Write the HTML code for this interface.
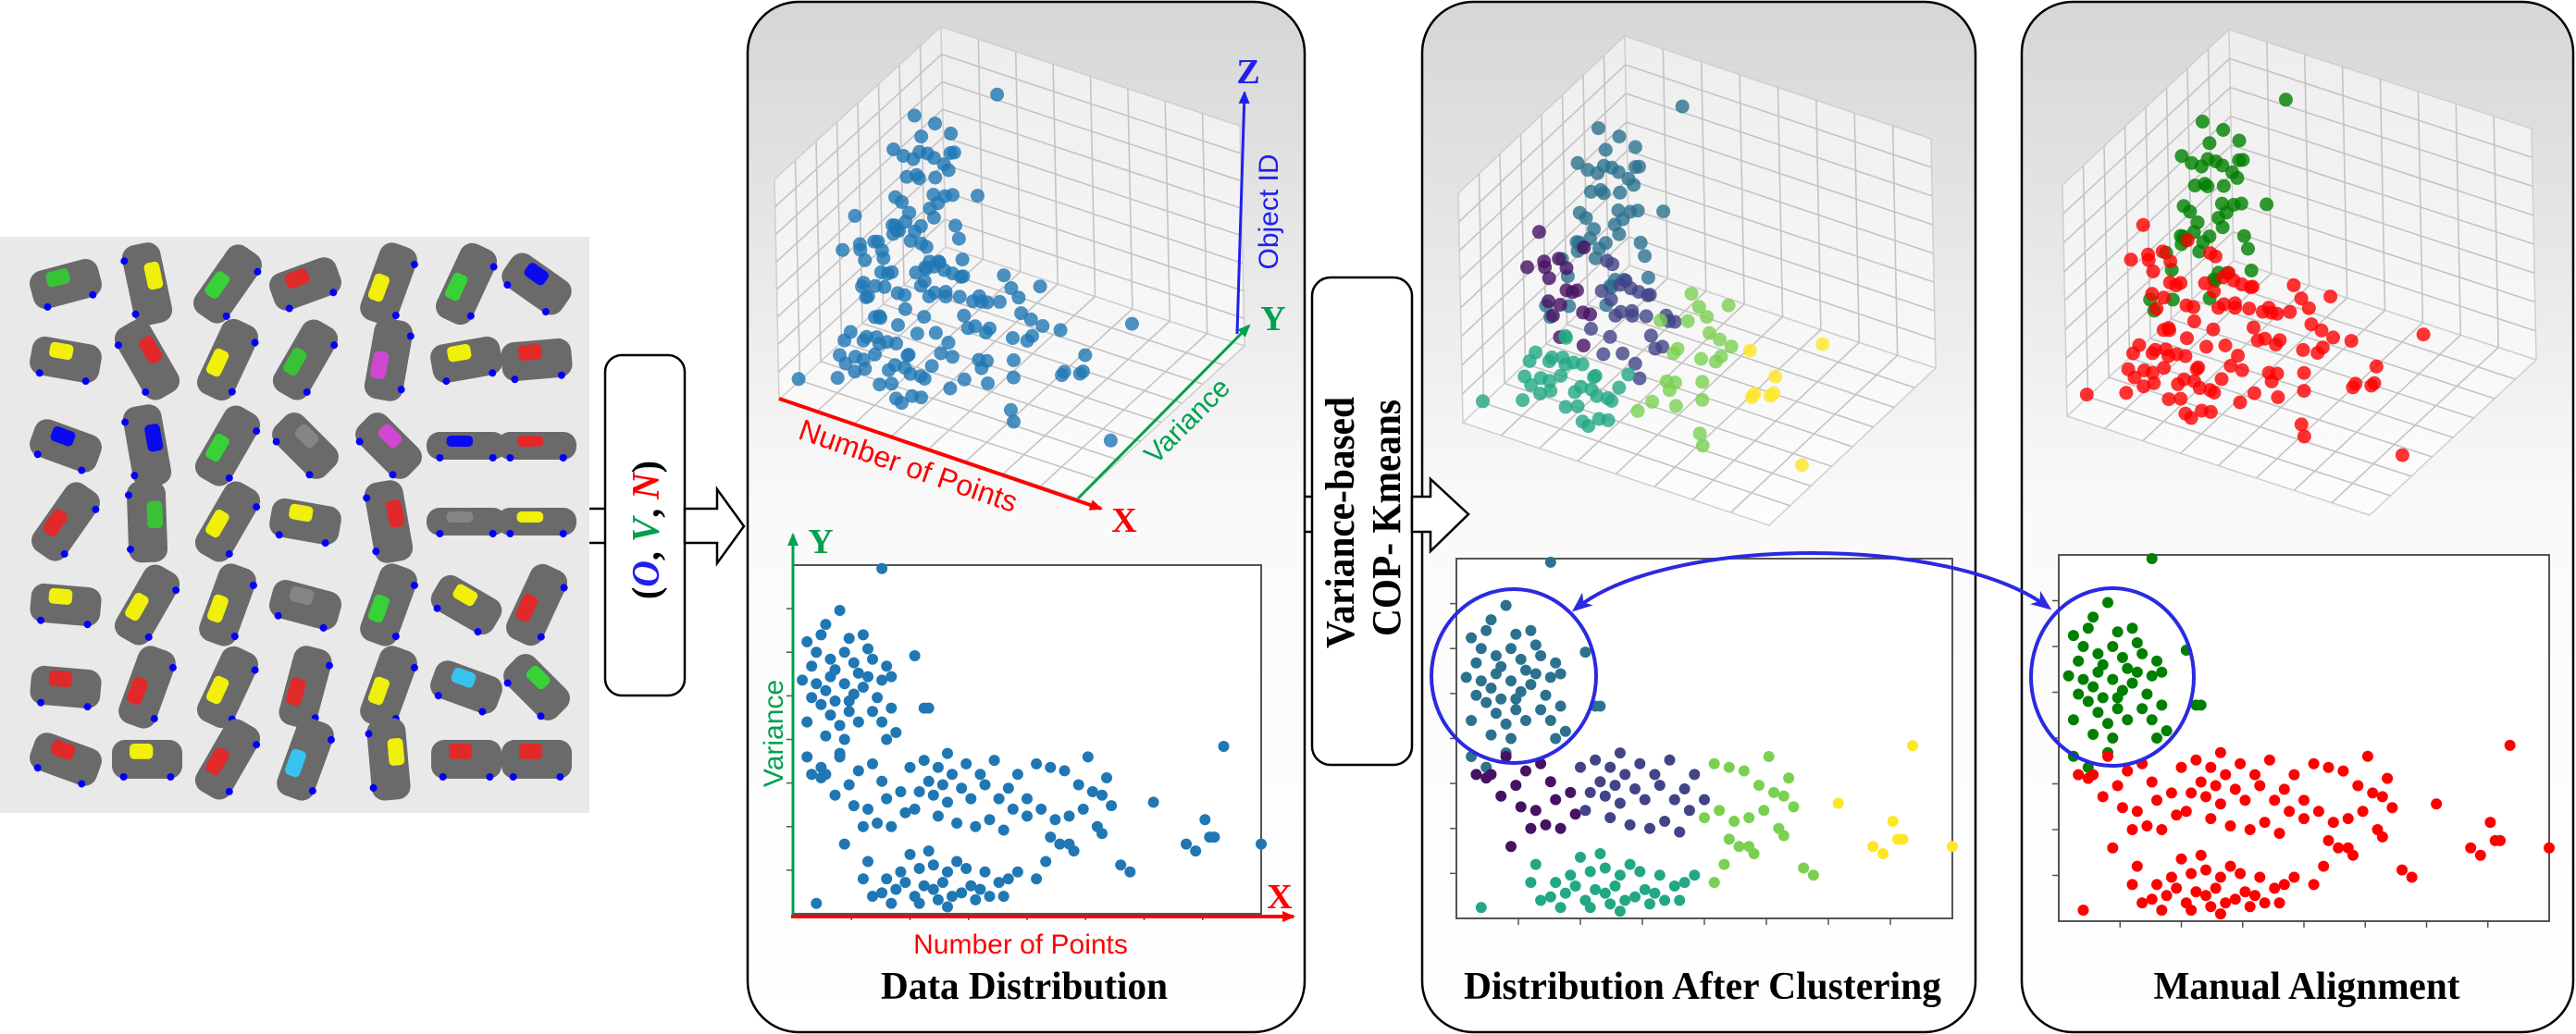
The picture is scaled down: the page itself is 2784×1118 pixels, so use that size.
<!DOCTYPE html>
<html><head><meta charset="utf-8"><style>
html,body{margin:0;padding:0;background:#fff;}
svg{display:block;}
text{font-family:"Liberation Serif",serif;}
.sans{font-family:"Liberation Sans",sans-serif;}
</style></head><body>
<svg id="fig" xmlns="http://www.w3.org/2000/svg" width="2784" height="1118" viewBox="0 0 2784 1118">
<defs>
<linearGradient id="pg" x1="0" y1="0" x2="0" y2="1">
<stop offset="0" stop-color="#d6d6d6"/><stop offset="0.5" stop-color="#fafafa"/><stop offset="1" stop-color="#ffffff"/>
</linearGradient>
<marker id="arR" markerWidth="14" markerHeight="12" refX="12" refY="6" orient="auto" markerUnits="userSpaceOnUse"><path d="M0,0 L14,6 L0,12 z" fill="#f00"/></marker>
<marker id="arG" markerWidth="14" markerHeight="12" refX="12" refY="6" orient="auto" markerUnits="userSpaceOnUse"><path d="M0,0 L14,6 L0,12 z" fill="#00a050"/></marker>
<marker id="arB" markerWidth="14" markerHeight="12" refX="12" refY="6" orient="auto" markerUnits="userSpaceOnUse"><path d="M0,0 L14,6 L0,12 z" fill="#2020ee"/></marker>
<marker id="arBl" markerWidth="22" markerHeight="18" refX="18" refY="9" orient="auto-start-reverse" markerUnits="userSpaceOnUse"><path d="M0,0 L22,9 L0,18 L6,9 z" fill="#2a2ae0"/></marker>
</defs>

<rect x="0" y="256" width="637" height="623" fill="#e9e9e9"/>
<g id="cars"></g>

<line x1="637" y1="550" x2="654" y2="550" stroke="#000" stroke-width="2.5"/>
<line x1="637" y1="587" x2="654" y2="587" stroke="#000" stroke-width="2.5"/>
<rect x="654" y="384" width="86" height="368" rx="18" fill="#fff" stroke="#000" stroke-width="2.5"/>
<text transform="translate(712,573) rotate(-90)" text-anchor="middle" font-size="42" font-weight="bold" textLength="150" lengthAdjust="spacingAndGlyphs">(<tspan fill="#2020ee" font-style="italic">O</tspan>, <tspan fill="#00a050" font-style="italic">V</tspan>, <tspan fill="#f00" font-style="italic">N</tspan>)</text>
<polygon points="740,550 775,550 775,529 804,569 775,609 775,587 740,587" fill="#fff" stroke="#000" stroke-width="2.5"/>

<rect x="808" y="2" width="602" height="1114" rx="55" fill="url(#pg)" stroke="#000" stroke-width="2.5"/>
<rect x="1537" y="2" width="598" height="1114" rx="55" fill="url(#pg)" stroke="#000" stroke-width="2.5"/>
<rect x="2185" y="2" width="596" height="1114" rx="55" fill="url(#pg)" stroke="#000" stroke-width="2.5"/>

<line x1="1410" y1="537" x2="1420" y2="537" stroke="#000" stroke-width="2.5"/>
<line x1="1410" y1="575" x2="1420" y2="575" stroke="#000" stroke-width="2.5"/>
<rect x="1418" y="300" width="108" height="527" rx="20" fill="#fff" stroke="#000" stroke-width="2.5"/>
<text transform="translate(1463,565) rotate(-90)" text-anchor="middle" font-size="44" font-weight="bold" textLength="272" lengthAdjust="spacingAndGlyphs">Variance-based</text>
<text transform="translate(1513,560) rotate(-90)" text-anchor="middle" font-size="44" font-weight="bold" textLength="256" lengthAdjust="spacingAndGlyphs">COP- Kmeans</text>
<polygon points="1526,537 1546,537 1546,518 1587,556 1546,596 1546,575 1526,575" fill="#fff" stroke="#000" stroke-width="2.5"/>

<g id="p2"></g>
<g id="p3"></g>
<g id="p4"></g>

<text x="1107" y="1080" text-anchor="middle" font-size="42" font-weight="bold" textLength="310" lengthAdjust="spacingAndGlyphs">Data Distribution</text>
<text x="1840" y="1080" text-anchor="middle" font-size="42" font-weight="bold" textLength="516" lengthAdjust="spacingAndGlyphs">Distribution After Clustering</text>
<text x="2493" y="1080" text-anchor="middle" font-size="42" font-weight="bold" textLength="331" lengthAdjust="spacingAndGlyphs">Manual Alignment</text>
</svg>
<script>
// ---- data: number of points (x), variance (v), object id (z), cluster labels ----
const xs = [3,7,10,6,8,4,5,9,11,12,14,15,13,6,8,3,10,12,16,17,19,20,18,21,7,9,11,5,15,4,2,13,17,20,22,11,7,14,19,10,3,6,16,8,12,26,28,29,21,19,
 4,6,12,10,14,17,9,13,16,20,18,21,23,24,15,11,7,19,
 25,28,31,34,37,36,33,30,27,26,38,41,44,46,48,50,42,39,35,31,29,43,47,40,33,45,32,
 15,17,19,22,24,26,28,30,32,34,36,38,40,42,44,46,27,30,33,25,29,35,37,23,31,39,21,5,16,41,48,45,27,33,20,
 52,55,58,61,62,59,56,53,50,64,66,67,68,55,57,59,60,66,65,70,72,54,52,63,
 77,84,86,89,90,92,100,88];
const vs = [78,83,87,80,73,71,66,70,75,79,69,65,63,60,57,55,54,58,76,73,67,71,62,59,64,61,66,75,80,62,67,72,58,50,52,50,51,55,55,46,45,42,68,68,61,74,59,59,68,99,
 40,39,37,45,41,43,34,31,30,33,26,25,35,29,25,20,40,38,
 42,44,42,40,43,36,32,34,35,30,33,37,33,36,40,33,27,25,26,28,38,44,30,40,46,24,37,
 10,5,6,7,9,5,8,7,9,5,6,8,7,5,9,10,13,14,12,17,18,15,13,12,4,4,3,3,15,12,12,5,3,2,10,
 43,42,41,37,30,28,27,30,28,35,34,39,31,22,20,20,18,23,25,14,12,15,10,45,
 32,20,18,22,22,48,20,27];
const zs = [95,88,80,72,90,65,55,84,77,70,62,58,48,93,68,40,52,60,82,75,66,45,57,35,86,50,73,63,78,44,38,69,30,28,42,54,36,47,33,25,22,20,59,81,46,64,53,41,67,98,
 70,55,62,48,40,66,58,35,44,52,30,60,38,26,50,72,45,34,
 64,50,56,42,38,60,46,30,54,36,48,58,40,32,44,52,28,34,62,26,68,41,37,55,47,24,43,
 20,12,35,26,18,40,30,14,22,44,10,28,38,16,24,32,48,8,36,42,15,27,19,34,46,11,25,6,30,21,39,17,31,45,13,
 60,55,52,48,40,62,45,38,57,35,50,42,44,30,28,20,36,25,33,16,12,24,22,58,
 52,40,45,42,44,50,10,48];
const labels = [0,0,0,0,0,0,0,0,0,0,0,0,0,0,0,0,0,0,0,0,0,0,0,0,0,0,0,0,0,0,0,0,0,0,0,0,0,0,0,0,0,0,0,0,0,0,0,0,0,0,
 1,1,1,1,1,1,1,1,1,1,1,1,1,1,1,1,1,1,
 2,2,2,2,2,2,2,2,2,2,2,2,2,2,2,2,2,2,2,2,2,2,2,2,2,2,2,
 3,3,3,3,3,3,3,3,3,3,3,3,3,3,3,3,3,3,3,3,3,3,3,3,3,3,3,3,3,3,3,3,3,3,3,
 4,4,4,4,4,4,4,4,4,4,4,4,4,4,4,4,4,4,4,4,4,4,4,4,
 5,5,5,5,5,5,5,5];
const clusterColors = ['#2c728e','#471164','#414487','#22a884','#7ad151','#fde725'];
const alignColors = ['#008000','#ff0000','#ff0000','#ff0000','#ff0000','#ff0000'];

const NS='http://www.w3.org/2000/svg';
function mk(tag, attrs, parent){const e=document.createElementNS(NS,tag);for(const k in attrs)e.setAttribute(k,attrs[k]);parent.appendChild(e);return e;}

// ---- 3D scatter ----
function draw3D(g, A, X, Y, Z, colorFn, prefix){
  const P=(a,b,c)=>[A[0]+a*X[0]+b*Y[0]+c*Z[0], A[1]+a*X[1]+b*Y[1]+c*Z[1]];
  const pane=(pts,name)=>{const p=mk('polygon',{points:pts.map(q=>q.join(',')).join(' '),fill:'rgba(255,255,255,0.55)',stroke:'#cfcfcf','stroke-width':1.5},g);
    
    };
  pane([P(0,0,0),P(1,0,0),P(1,1,0),P(0,1,0)], prefix+'-floor-pane');
  pane([P(0,0,0),P(0,1,0),P(0,1,1),P(0,0,1)], prefix+'-left-pane');
  pane([P(0,1,0),P(1,1,0),P(1,1,1),P(0,1,1)], prefix+'-back-pane');
  const ln=(a,b)=>{const l=mk('line',{x1:a[0],y1:a[1],x2:b[0],y2:b[1],stroke:'#c4c4c4','stroke-width':1.6},g);
    
    };
  for(let i=1;i<8;i++){const t=i/8;
    ln(P(t,0,0),P(t,1,0)); ln(P(0,t,0),P(1,t,0));
    ln(P(0,t,0),P(0,t,1)); ln(P(0,0,t),P(0,1,t));
    ln(P(t,1,0),P(t,1,1)); ln(P(0,1,t),P(1,1,t));}
  const idx=xs.map((_,i)=>i).sort((a,b)=>(vs[b]-xs[b])-(vs[a]-xs[a]));
  for(const i of idx){const q=P(xs[i]/100, vs[i]/100, 0.05+zs[i]/100*0.75);
    const c=mk('circle',{cx:q[0].toFixed(1),cy:q[1].toFixed(1),r:7.5,fill:colorFn(i),'fill-opacity':0.8},g);
    
    }
}
// ---- 2D scatter ----
function draw2D(g, box, colorFn, prefix){
  const [x0,y0,x1,y1]=box;
  const sx=v=>x0+v/100*(x1-x0), sy=v=>y1-v/100*(y1-y0);
  const r=mk('rect',{x:x0,y:y0,width:x1-x0,height:y1-y0,fill:'#fff',stroke:'#555','stroke-width':2},g);
  
  
  for(let i=1;i<8;i++){
    const t1=mk('line',{x1:x0-7,x2:x0,y1:y0+i*(y1-y0)/8,y2:y0+i*(y1-y0)/8,stroke:'#555','stroke-width':1.5},g);
    
    
    const t2=mk('line',{y1:y1,y2:y1+7,x1:x0+i*(x1-x0)/8,x2:x0+i*(x1-x0)/8,stroke:'#555','stroke-width':1.5},g);
    
    }
  for(let i=0;i<xs.length;i++){
    const c=mk('circle',{cx:sx(xs[i]).toFixed(1),cy:sy(vs[i]).toFixed(1),r:6,fill:colorFn(i)},g);
    
    }
}
const g2=document.getElementById('p2'), g3=document.getElementById('p3'), g4=document.getElementById('p4');
draw3D(g2,[842,432],[323,107],[180,-165],[-5,-238],()=> '#1f77b4','dist-3d');
draw3D(g3,[1581,457],[331,111],[180,-170],[-5,-248],i=>clusterColors[labels[i]],'cluster-3d');
draw3D(g4,[2234,450],[327,107],[180,-168],[-5,-250],i=>alignColors[labels[i]],'align-3d');
draw2D(g2,[857,611,1363,988],()=> '#1f77b4','dist-2d');
draw2D(g3,[1574,604,2110,993],i=>clusterColors[labels[i]],'cluster-2d');
draw2D(g4,[2225,600,2755,996],i=>alignColors[labels[i]],'align-2d');

// ---- axis annotations for data distribution panel ----
function line(g,a,name,attrs){const l=mk('line',Object.assign({x1:a[0],y1:a[1],x2:a[2],y2:a[3]},attrs),g);return l;}
let e;
e=line(g2,[842,431,1190,550],'',{stroke:'#f00','stroke-width':4,'marker-end':'url(#arR)'});


e=line(g2,[1165,539,1350,352],'',{stroke:'#00a050','stroke-width':3,'marker-end':'url(#arG)'});


e=line(g2,[1337,361,1345,100],'',{stroke:'#2020ee','stroke-width':3,'marker-end':'url(#arB)'});


e=line(g2,[857,990,857,578],'',{stroke:'#00a050','stroke-width':3,'marker-end':'url(#arG)'});


e=line(g2,[855,991,1398,991],'',{stroke:'#f00','stroke-width':4,'marker-end':'url(#arR)'});


function txt(g,s,x,y,attrs){const t=mk('text',Object.assign({x:x,y:y},attrs),g);t.textContent=s;return t;}
e=txt(g2,'Number of Points',0,0,{transform:'translate(978,514) rotate(19)','text-anchor':'middle','font-size':32,fill:'#f00',class:'sans'});


e=txt(g2,'Variance',0,0,{transform:'translate(1290,462) rotate(-45)','text-anchor':'middle','font-size':30,fill:'#00a050',class:'sans'});


e=txt(g2,'Object ID',0,0,{transform:'translate(1381,229) rotate(-90)','text-anchor':'middle','font-size':30,fill:'#2020ee',class:'sans'});


e=txt(g2,'X',1215,575,{'text-anchor':'middle','font-size':38,'font-weight':'bold',fill:'#f00'});


e=txt(g2,'Y',1376,357,{'text-anchor':'middle','font-size':38,'font-weight':'bold',fill:'#00a050'});


e=txt(g2,'Z',1349,90,{'text-anchor':'middle','font-size':38,'font-weight':'bold',fill:'#2020ee'});


e=txt(g2,'Y',887,598,{'text-anchor':'middle','font-size':38,'font-weight':'bold',fill:'#00a050'});


e=txt(g2,'X',1383,982,{'text-anchor':'middle','font-size':38,'font-weight':'bold',fill:'#f00'});


e=txt(g2,'Variance',0,0,{transform:'translate(846,793) rotate(-90)','text-anchor':'middle','font-size':30,fill:'#00a050',class:'sans'});


e=txt(g2,'Number of Points',1103,1031,{'text-anchor':'middle','font-size':30,fill:'#f00',class:'sans'});



// ---- cluster highlight ellipses and link ----
const svg=document.getElementById('fig');
e=mk('ellipse',{cx:1636,cy:731,rx:89,ry:94,fill:'none',stroke:'#2a2ae0','stroke-width':4},svg);


e=mk('ellipse',{cx:2283,cy:732,rx:88,ry:96,fill:'none',stroke:'#2a2ae0','stroke-width':4},svg);


e=mk('path',{d:'M1702,659 C1800,578 2110,578 2214,657',fill:'none',stroke:'#2a2ae0','stroke-width':4,'marker-start':'url(#arBl)','marker-end':'url(#arBl)'},svg);



// ---- car gallery ----
const carAngles = [-15,78,-55,-20,-70,-65,35, 10,60,-65,-60,-80,-10,-5, 20,80,-60,45,45,0,0, -55,88,-60,10,80,0,0, 5,-60,-70,15,-70,30,-65, 5,-70,-65,-75,-70,20,45, 20,0,-60,-70,85,0,0];
const carAccent = ['#3c3','#ff0','#3d3','#e22','#ff0','#3d3','#00f', '#ff0','#e22','#ff0','#3c3','#d4d','#ff0','#e22', '#00f','#00f','#3d3','#888','#d4d','#00f','#e22', '#e22','#3c3','#ff0','#ff0','#e22','#888','#ff0', '#ff0','#ff0','#ff0','#888','#3d3','#ff0','#e22', '#e22','#e22','#ff0','#e22','#ff0','#3cf','#3d3', '#e22','#ff0','#e22','#3cf','#ff0','#e22','#e22'];
const colX=[71,159,246,330,420,504,580], rowY=[307,389,482,564,654,743,821];
const cg=document.getElementById('cars');
for(let r=0;r<7;r++)for(let c=0;c<7;c++){const k=r*7+c;
  const gg=mk('g',{transform:`translate(${colX[c]},${rowY[r]}) rotate(${carAngles[k]})`},cg);
  
  
  const w=(c>=5&&(r==3||r==2))?86:(Math.abs(carAngles[k])>50?88:76), h=(c>=5&&(r==3||r==2))?30:42;
  mk('rect',{x:-w/2,y:-h/2,width:w,height:h,rx:14,fill:'#6a6a6a'},gg);
  mk('rect',{x:-w/4,y:-h/2+4,width:w/3,height:h/2.5,rx:5,fill:carAccent[k],opacity:0.9},gg);
  mk('circle',{cx:-w/3,cy:h/2-2,r:4,fill:'#00f'},gg);
  mk('circle',{cx:w/3,cy:h/2-2,r:4,fill:'#00f'},gg);
}
</script>
</body></html>
